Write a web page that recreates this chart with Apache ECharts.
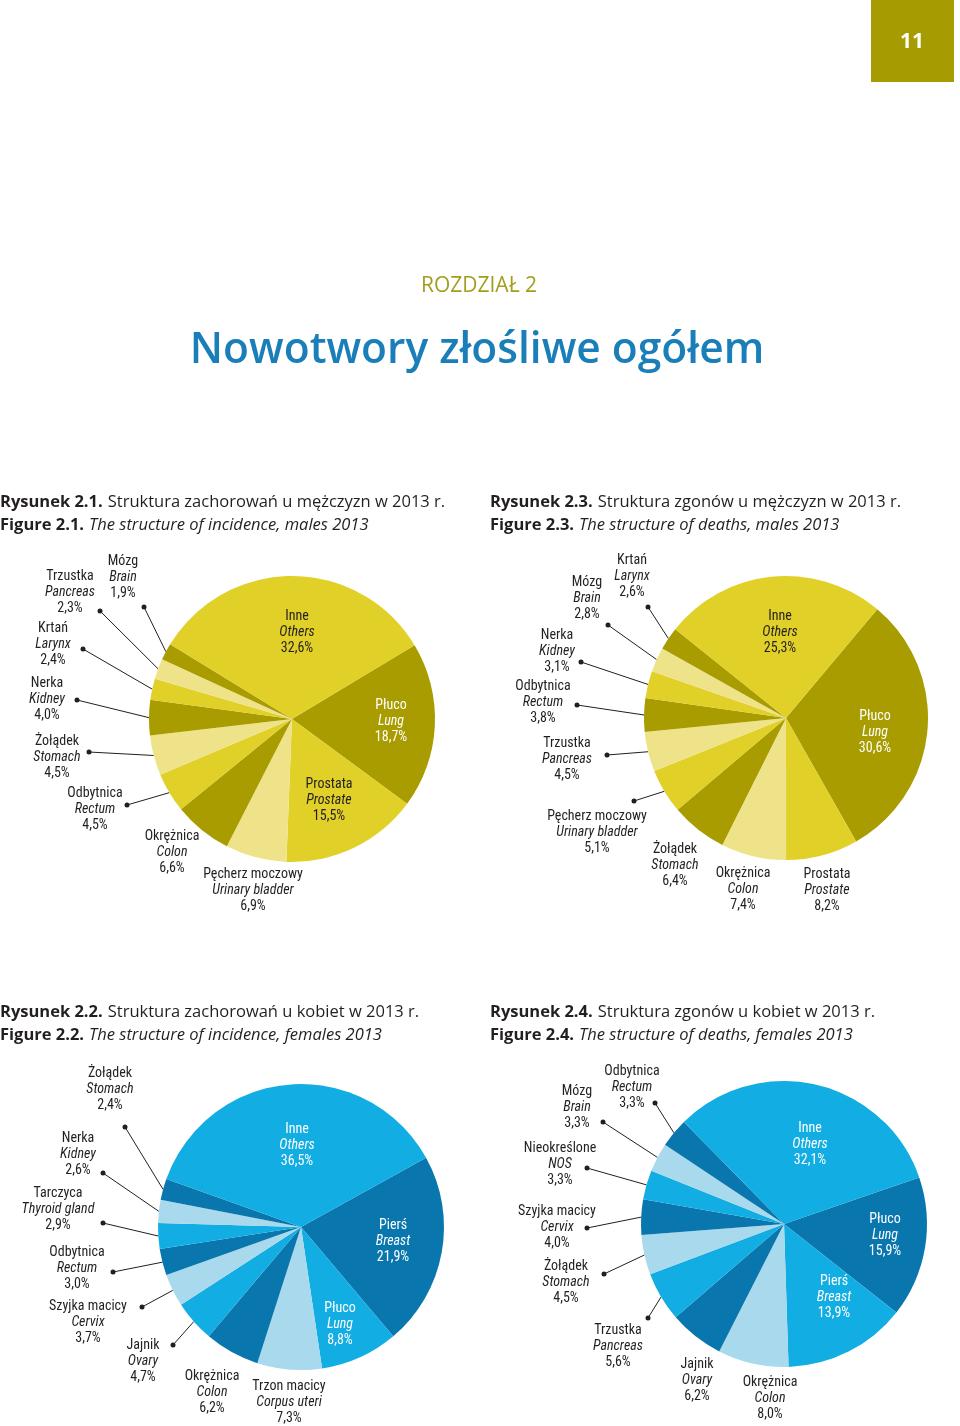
<!DOCTYPE html>
<html><head><meta charset="utf-8">
<script src="https://cdn.jsdelivr.net/npm/echarts@6/dist/echarts.min.js"></script>
<style>html,body{margin:0;padding:0;background:#fff}#c{width:960px;height:1426px}</style>
</head><body><div id="c"></div>
<script>
// ---------- DATA ----------
// Figure 2.1 incidence, males 2013
const mIncPL = ['Płuco','Prostata','Pęcherz moczowy','Okrężnica','Odbytnica','Żołądek','Nerka','Krtań','Trzustka','Mózg','Inne'];
const mIncEN = ['Lung','Prostate','Urinary bladder','Colon','Rectum','Stomach','Kidney','Larynx','Pancreas','Brain','Others'];
const mIncVal = [18.7,15.5,6.9,6.6,4.5,4.5,4.0,2.4,2.3,1.9,32.6];
// Figure 2.3 deaths, males 2013
const mDthPL = ['Płuco','Prostata','Okrężnica','Żołądek','Pęcherz moczowy','Trzustka','Odbytnica','Nerka','Mózg','Krtań','Inne'];
const mDthEN = ['Lung','Prostate','Colon','Stomach','Urinary bladder','Pancreas','Rectum','Kidney','Brain','Larynx','Others'];
const mDthVal = [30.6,8.2,7.4,6.4,5.1,4.5,3.8,3.1,2.8,2.6,25.3];
// Figure 2.2 incidence, females 2013
const fIncPL = ['Pierś','Płuco','Trzon macicy','Okrężnica','Jajnik','Szyjka macicy','Odbytnica','Tarczyca','Nerka','Żołądek','Inne'];
const fIncEN = ['Breast','Lung','Corpus uteri','Colon','Ovary','Cervix','Rectum','Thyroid gland','Kidney','Stomach','Others'];
const fIncVal = [21.9,8.8,7.3,6.2,4.7,3.7,3.0,2.9,2.6,2.4,36.5];
// Figure 2.4 deaths, females 2013
const fDthPL = ['Płuco','Pierś','Okrężnica','Jajnik','Trzustka','Żołądek','Szyjka macicy','Nieokreślone','Mózg','Odbytnica','Inne'];
const fDthEN = ['Lung','Breast','Colon','Ovary','Pancreas','Stomach','Cervix','NOS','Brain','Rectum','Others'];
const fDthVal = [15.9,13.9,8.0,6.2,5.6,4.5,4.0,3.3,3.3,3.3,32.1];

// ---------- LAYOUT (label anchor x,y ; optional leader-line dot; in = inside label) ----------
const layM1 = [
  {x:391,y:721,in:1},{x:329,y:800,in:1},{x:253,y:890},{x:172,y:852},
  {x:95,y:809,d:[127,805]},{x:57,y:757,d:[89,752]},{x:47,y:699,d:[77,700]},
  {x:53,y:644,d:[83,649]},{x:70,y:592,d:[100,611]},{x:123,y:577,d:[144,607]},{x:297,y:632,in:1}
];
const layM2 = [
  {x:875,y:732,in:1},{x:827,y:890},{x:743,y:889},{x:675,y:865},
  {x:597,y:832,d:[634,801]},{x:567,y:759,d:[607,755]},{x:543,y:702,d:[577,705]},
  {x:557,y:651,d:[581,662]},{x:587,y:598,d:[608,625]},{x:632,y:576,d:[648,607]},{x:780,y:632,in:1}
];
const layF1 = [
  {x:393,y:1241,in:1},{x:340,y:1324,in:1},{x:289,y:1402},{x:212,y:1392},
  {x:143,y:1361,d:[173,1345]},{x:88,y:1322,d:[142,1307]},{x:77,y:1268,d:[113,1272]},
  {x:58,y:1209,d:[103,1223]},{x:78,y:1154,d:[103,1173]},{x:110,y:1089,d:[125,1127]},{x:297,y:1145,in:1}
];
const layF2 = [
  {x:885,y:1235,in:1},{x:834,y:1297,in:1},{x:770,y:1398},{x:697,y:1380},
  {x:618,y:1346,d:[648,1318]},{x:566,y:1282,d:[604,1274]},{x:557,y:1227,d:[587,1228]},
  {x:560,y:1164,d:[587,1168]},{x:577,y:1107,d:[603,1122]},{x:632,y:1087,d:[655,1103]},{x:810,y:1144,in:1}
];

const YEL = ['#a89c00','#e1d028','#efe38a'];
const BLU = ['#0a76ae','#12ade3','#a8d9ec'];
const TXT = '#231f20';
const LFONT = "'Roboto Condensed','Liberation Sans Narrow',Roboto,sans-serif";
const TFONT = "'Open Sans','Noto Sans',sans-serif";

function fmt(v){ return v.toFixed(1).replace('.', ',') + '%'; }

function makePie(pl, en, val, lay, colors, center, radius, startAngle){
  const data = val.map((v,i)=>{
    const ci = i % 3;
    const inner = !!lay[i].in;
    const lblColor = inner ? (ci === 0 || colors === BLU ? '#ffffff' : TXT) : TXT;
    return {
      name: pl[i], value: v, en: en[i],
      itemStyle: {color: colors[ci]},
      label: {color: lblColor},
      labelLine: {show: !!lay[i].d}
    };
  });
  return {
    type: 'pie', center: center, radius: radius, startAngle: startAngle, clockwise: true,
    avoidLabelOverlap: false, animation: false, silent: true,
    itemStyle: {borderWidth: 0},
    label: {
      show: true, position: 'outside', fontFamily: LFONT, fontSize: 14, lineHeight: 16,
      formatter: p => '{a|' + p.name + '}\n{b|' + p.data.en + '}\n{a|' + fmt(p.value) + '}',
      rich: {
        a: {fontFamily: LFONT, fontSize: 14, lineHeight: 16, align: 'center'},
        b: {fontFamily: LFONT, fontSize: 14, lineHeight: 16, fontStyle: 'italic', align: 'center'}
      }
    },
    labelLine: {lineStyle: {color: TXT, width: 1}, smooth: false},
    labelLayout: function(p){
      const c = lay[p.dataIndex];
      const r = {x: c.x, y: c.y, align: 'center', verticalAlign: 'middle'};
      if (c.d && p.labelLinePoints) {
        r.labelLinePoints = [p.labelLinePoints[0], c.d, c.d];
      }
      return r;
    },
    data: data
  };
}

const dots = [];
[layM1, layM2, layF1, layF2].forEach(l => l.forEach(c => {
  if (c.d) dots.push({type:'circle', shape:{cx:c.d[0], cy:c.d[1], r:2.5}, style:{fill:TXT}, silent:true});
}));

function figTitle(left, top, num, pl, en){
  return {
    left: left, top: top,
    text: '{b|Rysunek ' + num + '.} {n|' + pl + '}\n{b|Figure ' + num + '.} {i|' + en + '}',
    textStyle: {
      fontWeight: 'normal',
      rich: {
        b: {fontFamily: TFONT, fontSize: 16.5, fontWeight: 'bold', color: TXT, lineHeight: 23},
        n: {fontFamily: TFONT, fontSize: 16.5, fontWeight: 'normal', color: TXT, lineHeight: 23},
        i: {fontFamily: TFONT, fontSize: 16.5, fontWeight: 'normal', fontStyle: 'italic', color: TXT, lineHeight: 23}
      }
    },
    padding: 0
  };
}

const chart = echarts.init(document.getElementById('c'), null, {renderer: 'canvas'});
chart.setOption({
  backgroundColor: '#ffffff',
  animation: false,
  title: [
    figTitle(0, 491, '2.1', 'Struktura zachorowań u mężczyzn w 2013 r.', 'The structure of incidence, males 2013'),
    figTitle(490, 491, '2.3', 'Struktura zgonów u mężczyzn w 2013 r.', 'The structure of deaths, males 2013'),
    figTitle(0, 1001, '2.2', 'Struktura zachorowań u kobiet w 2013 r.', 'The structure of incidence, females 2013'),
    figTitle(490, 1001, '2.4', 'Struktura zgonów u kobiet w 2013 r.', 'The structure of deaths, females 2013')
  ],
  graphic: [
    {type:'rect', shape:{x:871, y:0, width:83, height:82}, style:{fill:'#a69b00'}, silent:true},
    {type:'text', x:912, y:42, style:{text:'11', fill:'#ffffff', font:"bold 21px 'Open Sans',sans-serif", align:'center', verticalAlign:'middle'}, silent:true},
    {type:'text', x:479, y:286, style:{text:'ROZDZIAŁ 2', fill:'#a39e1e', font:"21px 'Open Sans',sans-serif", align:'center', verticalAlign:'middle'}, silent:true},
    {type:'text', x:477, y:351, style:{text:'Nowotwory złośliwe ogółem', fill:'#1a7fb9', font:"600 42.5px 'Open Sans',sans-serif", align:'center', verticalAlign:'middle'}, silent:true}
  ].concat(dots),
  series: [
    makePie(mIncPL, mIncEN, mIncVal, layM1, YEL, [292, 719], 143, 31),
    makePie(mDthPL, mDthEN, mDthVal, layM2, YEL, [786, 718], 142, 50),
    makePie(fIncPL, fIncEN, fIncVal, layF1, BLU, [301, 1227], 143, 29),
    makePie(fDthPL, fDthEN, fDthVal, layF2, BLU, [784, 1224], 143, 19)
  ]
});
</script>
</body></html>
